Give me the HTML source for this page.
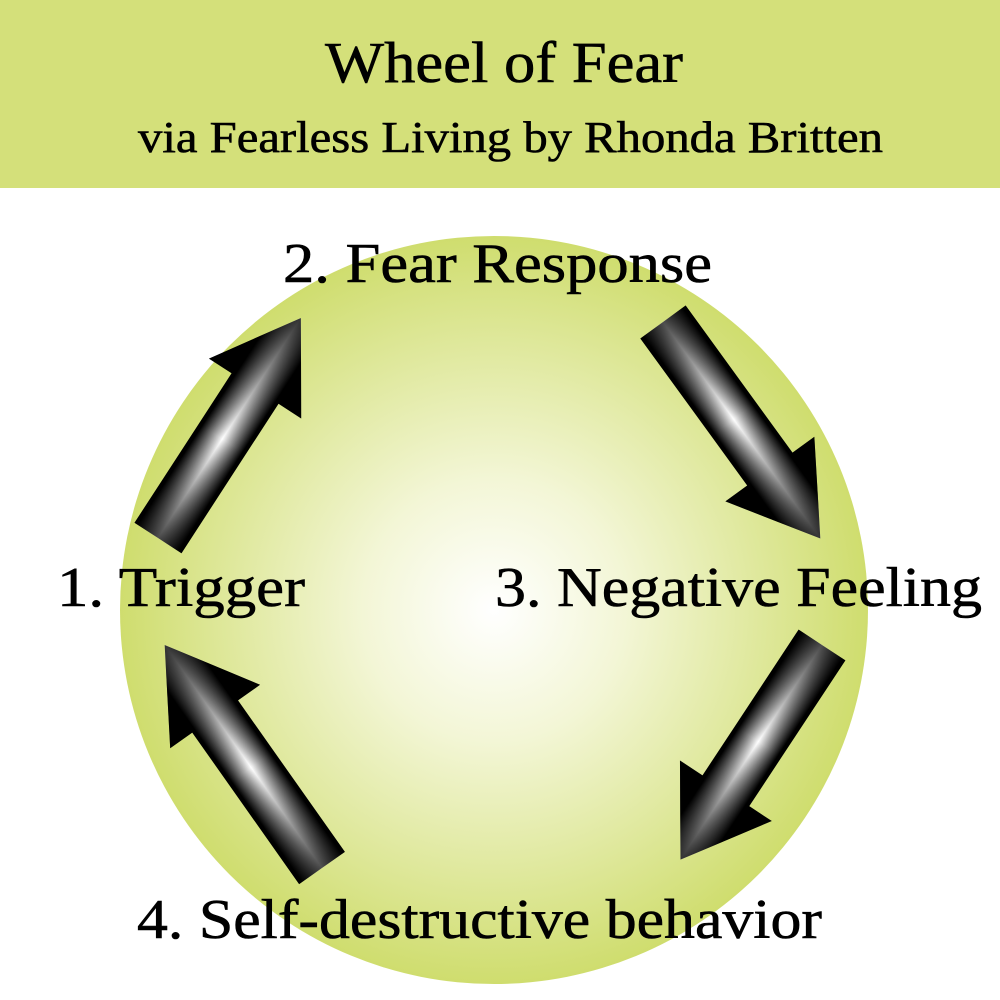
<!DOCTYPE html>
<html><head><meta charset="utf-8"><style>
html,body{margin:0;padding:0;background:#fff}
svg{display:block}
text{font-family:"Liberation Serif",serif;fill:#000;stroke:#000;stroke-width:0.6}
</style></head><body>
<svg width="1000" height="1000" viewBox="0 0 1000 1000">
<defs>
<radialGradient id="rg" cx="0.5" cy="0.5" r="0.5">
<stop offset="0" stop-color="#ffffff"/>
<stop offset="0.35" stop-color="#f3f6d6"/>
<stop offset="1" stop-color="#cfdd6e"/>
</radialGradient>
<linearGradient id="ag" x1="0" y1="-55" x2="0" y2="55" gradientUnits="userSpaceOnUse">
<stop offset="0" stop-color="#000"/>
<stop offset="0.28" stop-color="#000"/>
<stop offset="0.5" stop-color="#fff"/>
<stop offset="0.72" stop-color="#000"/>
<stop offset="1" stop-color="#000"/>
</linearGradient>
<linearGradient id="al" x1="0" y1="0" x2="265" y2="0" gradientUnits="userSpaceOnUse">
<stop offset="0" stop-color="#000" stop-opacity="0.7"/>
<stop offset="0.45" stop-color="#000" stop-opacity="0"/>
<stop offset="1" stop-color="#000" stop-opacity="0.8"/>
</linearGradient>
<g id="arr">
<polygon points="0,-28 180,-28 180,-55 265,0 180,55 180,28 0,28" fill="url(#ag)"/>
<polygon points="0,-28 180,-28 180,-55 265,0 180,55 180,28 0,28" fill="url(#al)"/>
</g>
</defs>
<rect x="0" y="0" width="1000" height="188" fill="#d4e07a"/>
<text x="325" y="82" font-size="58" textLength="358" lengthAdjust="spacingAndGlyphs">Wheel of Fear</text>
<text x="138" y="152" font-size="44" textLength="745" lengthAdjust="spacingAndGlyphs">via Fearless Living by Rhonda Britten</text>
<circle cx="494" cy="610" r="374" fill="url(#rg)"/>
<g transform="translate(158,538) rotate(-57) scale(0.99,1)"><use href="#arr"/></g>
<g transform="translate(663,322) rotate(54) scale(1.01,1)"><use href="#arr"/></g>
<g transform="translate(822,645) rotate(123.4) scale(0.97,1)"><use href="#arr"/></g>
<g transform="translate(322,868) rotate(234.8) scale(1.03,1)"><use href="#arr"/></g>
<text x="283" y="282" font-size="56" textLength="429" lengthAdjust="spacingAndGlyphs">2. Fear Response</text>
<text x="57" y="606" font-size="56" textLength="248" lengthAdjust="spacingAndGlyphs">1. Trigger</text>
<text x="495" y="606" font-size="56" textLength="487" lengthAdjust="spacingAndGlyphs">3. Negative Feeling</text>
<text x="137" y="938" font-size="56" textLength="685" lengthAdjust="spacingAndGlyphs">4. Self-destructive behavior</text>
</svg>
</body></html>
